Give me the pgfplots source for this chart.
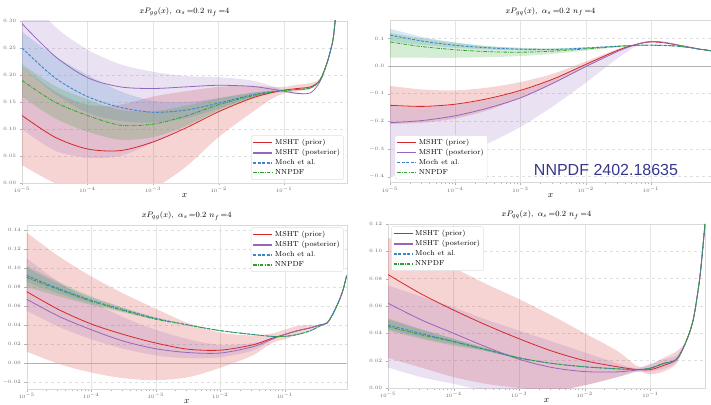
\documentclass[border=0pt]{standalone}
\usepackage{pgfplots}
\pgfplotsset{compat=1.18}
\usepackage{pgfplotstable}
\usepgfplotslibrary{fillbetween}
\usepackage{fontspec}
\newfontfamily\annfont{Liberation Sans}

\definecolor{cprior}{HTML}{D62728}
\definecolor{cpost}{HTML}{9467BD}
\definecolor{cmoch}{HTML}{3A86C8}
\definecolor{cnn}{HTML}{2CA02C}
\definecolor{cann}{RGB}{55,55,140}

% columns: x, prior (central, lo, hi), posterior, Moch et al., NNPDF
\pgfplotstableread{
x pr prlo prhi po polo pohi mo molo mohi nn nnlo nnhi
1e-5 0.125 0.033 0.215 0.295 0.100 0.360 0.250 0.215 0.280 0.190 0.160 0.220
3.162e-5 0.085 0.000 0.170 0.235 0.060 0.290 0.195 0.165 0.235 0.150 0.120 0.180
1e-4 0.063 -0.020 0.145 0.195 0.047 0.247 0.160 0.130 0.200 0.125 0.095 0.155
3.162e-4 0.060 -0.025 0.145 0.178 0.050 0.220 0.140 0.115 0.170 0.107 0.080 0.135
1e-3 0.076 -0.010 0.160 0.175 0.075 0.206 0.131 0.112 0.152 0.109 0.085 0.133
3.162e-3 0.102 0.030 0.170 0.178 0.105 0.198 0.135 0.120 0.150 0.124 0.105 0.143
1e-2 0.132 0.085 0.178 0.181 0.135 0.196 0.148 0.138 0.157 0.145 0.133 0.157
3.162e-2 0.157 0.130 0.180 0.179 0.158 0.190 0.163 0.158 0.167 0.161 0.155 0.167
0.0631 0.167 0.155 0.178 0.174 0.166 0.180 0.169 0.167 0.171 0.168 0.166 0.170
0.1 0.172 0.166 0.178 0.170 0.168 0.172 0.172 0.172 0.172 0.171 0.171 0.171
0.1585 0.175 0.170 0.182 0.166 0.164 0.168 0.173 0.173 0.173 0.173 0.173 0.173
0.2512 0.178 0.174 0.185 0.167 0.167 0.167 0.176 0.176 0.176 0.176 0.176 0.176
0.35 0.190 0.187 0.193 0.187 0.187 0.187 0.190 0.190 0.190 0.190 0.190 0.190
0.45 0.222 0.222 0.222 0.222 0.222 0.222 0.222 0.222 0.222 0.222 0.222 0.222
0.55 0.262 0.262 0.262 0.262 0.262 0.262 0.262 0.262 0.262 0.262 0.262 0.262
0.6 0.300 0.300 0.300 0.300 0.300 0.300 0.300 0.300 0.300 0.300 0.300 0.300
0.7 0.380 0.380 0.380 0.380 0.380 0.380 0.380 0.380 0.380 0.380 0.380 0.380
}\tA

\pgfplotstableread{
x pr prlo prhi po polo pohi mo molo mohi nn nnlo nnhi
1e-5 -0.142 -0.210 -0.072 -0.205 -0.400 -0.145 0.112 0.090 0.135 0.087 0.030 0.120
3.162e-5 -0.146 -0.205 -0.085 -0.197 -0.370 -0.148 0.090 0.076 0.105 0.070 0.030 0.100
1e-4 -0.138 -0.190 -0.088 -0.180 -0.330 -0.140 0.075 0.066 0.085 0.059 0.030 0.085
3.162e-4 -0.118 -0.160 -0.078 -0.152 -0.280 -0.120 0.066 0.060 0.072 0.052 0.032 0.072
1e-3 -0.088 -0.115 -0.058 -0.115 -0.220 -0.090 0.061 0.057 0.065 0.050 0.036 0.066
3.162e-3 -0.047 -0.063 -0.028 -0.062 -0.145 -0.048 0.060 0.057 0.063 0.054 0.044 0.064
1e-2 0.006 -0.002 0.017 -0.002 -0.060 0.005 0.065 0.063 0.067 0.062 0.056 0.068
3.162e-2 0.058 0.055 0.062 0.054 0.030 0.058 0.072 0.072 0.072 0.071 0.068 0.074
0.0631 0.080 0.079 0.081 0.080 0.075 0.082 0.075 0.075 0.075 0.075 0.075 0.075
0.1 0.087 0.087 0.087 0.089 0.087 0.091 0.076 0.076 0.076 0.075 0.075 0.075
0.1585 0.084 0.084 0.084 0.086 0.086 0.086 0.075 0.075 0.075 0.074 0.074 0.074
0.2512 0.076 0.076 0.076 0.077 0.077 0.077 0.072 0.072 0.072 0.072 0.072 0.072
0.35 0.070 0.070 0.070 0.070 0.070 0.070 0.068 0.068 0.068 0.068 0.068 0.068
0.45 0.065 0.065 0.065 0.065 0.065 0.065 0.065 0.065 0.065 0.065 0.065 0.065
0.55 0.061 0.061 0.061 0.061 0.061 0.061 0.061 0.061 0.061 0.061 0.061 0.061
0.7 0.058 0.058 0.058 0.058 0.058 0.058 0.058 0.058 0.058 0.058 0.058 0.058
0.83 0.055 0.055 0.055 0.055 0.055 0.055 0.055 0.055 0.055 0.055 0.055 0.055
}\tB

\pgfplotstableread{
x pr prlo prhi po polo pohi mo molo mohi nn nnlo nnhi
1e-5 0.075 0.012 0.137 0.067 0.055 0.110 0.092 0.085 0.100 0.090 0.080 0.102
3.162e-5 0.056 -0.001 0.112 0.049 0.038 0.085 0.078 0.073 0.083 0.077 0.070 0.085
1e-4 0.041 -0.010 0.091 0.035 0.025 0.065 0.066 0.063 0.069 0.065 0.061 0.070
3.162e-4 0.030 -0.016 0.073 0.023 0.015 0.048 0.056 0.054 0.058 0.055 0.053 0.058
1e-3 0.021 -0.018 0.057 0.015 0.008 0.035 0.047 0.046 0.048 0.046 0.0455 0.047
3.162e-3 0.0145 -0.015 0.042 0.011 0.005 0.025 0.040 0.040 0.040 0.040 0.040 0.040
1e-2 0.0135 -0.005 0.032 0.0105 0.006 0.019 0.034 0.034 0.034 0.034 0.034 0.034
3.162e-2 0.019 0.008 0.029 0.017 0.013 0.021 0.030 0.030 0.030 0.030 0.030 0.030
0.0631 0.026 0.021 0.031 0.025 0.024 0.026 0.028 0.028 0.028 0.028 0.028 0.028
0.1 0.030 0.025 0.035 0.030 0.030 0.030 0.028 0.028 0.028 0.028 0.028 0.028
0.1585 0.034 0.030 0.039 0.034 0.034 0.034 0.030 0.030 0.030 0.030 0.030 0.030
0.2512 0.037 0.035 0.040 0.037 0.037 0.037 0.034 0.034 0.034 0.034 0.034 0.034
0.35 0.040 0.040 0.040 0.040 0.040 0.040 0.039 0.039 0.039 0.039 0.039 0.039
0.45 0.042 0.042 0.042 0.042 0.042 0.042 0.042 0.042 0.042 0.042 0.042 0.042
0.55 0.051 0.051 0.051 0.051 0.051 0.051 0.051 0.051 0.051 0.051 0.051 0.051
0.7 0.066 0.066 0.066 0.066 0.066 0.066 0.066 0.066 0.066 0.066 0.066 0.066
0.8 0.077 0.077 0.077 0.077 0.077 0.077 0.077 0.077 0.077 0.077 0.077 0.077
0.91 0.092 0.092 0.092 0.092 0.092 0.092 0.092 0.092 0.092 0.092 0.092 0.092
}\tC

\pgfplotstableread{
x pr prlo prhi po polo pohi mo molo mohi nn nnlo nnhi
1e-5 0.083 0.022 0.110 0.062 0.015 0.075 0.046 0.043 0.050 0.045 0.042 0.051
3.162e-5 0.069 0.015 0.099 0.050 0.008 0.067 0.040 0.037 0.043 0.039 0.036 0.043
1e-4 0.057 0.008 0.088 0.040 0.003 0.059 0.034 0.032 0.036 0.034 0.031 0.036
3.162e-4 0.046 0.003 0.076 0.030 -0.002 0.050 0.028 0.027 0.029 0.028 0.027 0.029
1e-3 0.036 0.000 0.065 0.021 -0.004 0.042 0.022 0.0215 0.0225 0.022 0.0215 0.0225
3.162e-3 0.027 -0.002 0.053 0.015 -0.003 0.034 0.018 0.018 0.018 0.018 0.018 0.018
1e-2 0.020 0.002 0.040 0.012 0.002 0.026 0.0155 0.0155 0.0155 0.0155 0.0155 0.0155
3.162e-2 0.0155 0.008 0.027 0.0118 0.008 0.018 0.014 0.014 0.014 0.014 0.014 0.014
0.0631 0.0135 0.012 0.016 0.0132 0.012 0.0145 0.0135 0.0135 0.0135 0.0135 0.0135 0.0135
0.1 0.0135 0.010 0.017 0.0145 0.012 0.018 0.0145 0.0145 0.0145 0.0145 0.0145 0.0145
0.1585 0.0165 0.012 0.022 0.018 0.014 0.021 0.018 0.018 0.018 0.018 0.018 0.018
0.2512 0.021 0.018 0.027 0.021 0.019 0.024 0.021 0.021 0.021 0.021 0.021 0.021
0.35 0.034 0.034 0.034 0.034 0.034 0.034 0.034 0.034 0.034 0.034 0.034 0.034
0.45 0.050 0.050 0.050 0.050 0.050 0.050 0.050 0.050 0.050 0.050 0.050 0.050
0.55 0.076 0.076 0.076 0.076 0.076 0.076 0.076 0.076 0.076 0.076 0.076 0.076
0.6 0.092 0.092 0.092 0.092 0.092 0.092 0.092 0.092 0.092 0.092 0.092 0.092
0.68 0.120 0.120 0.120 0.120 0.120 0.120 0.120 0.120 0.120 0.120 0.120 0.120
}\tD

% one shaded band: table, lo column, hi column, colour, unique id
\newcommand{\bandfill}[5]{%
  \addplot[draw=none, smooth, name path=L#5, forget plot] table[x=x,y=#2]{#1};
  \addplot[draw=none, smooth, name path=H#5, forget plot] table[x=x,y=#3]{#1};
  \addplot[fill=#4, fill opacity=0.2, draw=none, forget plot] fill between[of=L#5 and H#5];
}
% legend, then all four bands and lines of one panel
\newcommand{\drawset}[2]{%
  \addplot[draw=none, forget plot] coordinates {(1e-5,0) (1e-4,0)};
  \addlegendimage{draw=cprior, line width=1.3pt}\addlegendentry{MSHT (prior)}
  \addlegendimage{draw=cpost, line width=1.3pt}\addlegendentry{MSHT (posterior)}
  \addlegendimage{draw=cmoch, line width=1.3pt, dash pattern=on 3pt off 1.5pt}\addlegendentry{Moch et al.}
  \addlegendimage{draw=cnn, line width=1.3pt, dash pattern=on 3.5pt off 1.2pt on 0.8pt off 1.2pt}\addlegendentry{NNPDF}
  \bandfill{#1}{prlo}{prhi}{cprior}{a#2}
  \bandfill{#1}{polo}{pohi}{cpost}{b#2}
  \bandfill{#1}{molo}{mohi}{cmoch}{c#2}
  \bandfill{#1}{nnlo}{nnhi}{cnn}{d#2}
  \addplot[cprior, smooth, forget plot] table[x=x,y=pr]{#1};
  \addplot[cpost, smooth, forget plot] table[x=x,y=po]{#1};
  \addplot[cmoch, smooth, forget plot, line width=0.9pt, dash pattern=on 3pt off 1.5pt] table[x=x,y=mo]{#1};
  \addplot[cnn, smooth, forget plot, dash pattern=on 3.5pt off 1.2pt on 0.8pt off 1.2pt] table[x=x,y=nn]{#1};
}

\pgfplotsset{
  every axis/.append style={
    scale only axis,
    xtick={1e-5,1e-4,1e-3,1e-2,1e-1},
    axis line style={gray!30},
    grid=major,
    x grid style={gray!20},
    y grid style={gray!25, dashed},
    tick align=outside, tick pos=left,
    major tick length=2.5pt, minor tick length=1.5pt,
    tick style={gray!60},
    tick label style={font=\fontsize{5}{6}\selectfont, text=gray!80!black},
    xticklabel style={yshift=1.5pt},
    yticklabel style={/pgf/number format/fixed, /pgf/number format/fixed zerofill, /pgf/number format/precision=2},
    title style={font=\fontsize{8.5}{10}\selectfont, yshift=-5pt},
    xlabel={$x$},
    xlabel style={font=\fontsize{9}{10}\selectfont, yshift=6pt},
    legend cell align=left,
    legend style={font=\fontsize{7.2}{8.2}\selectfont, draw=gray!25,
      rounded corners=1.5pt, fill=white,
      inner sep=1.5pt, row sep=-0.6pt},
  },
  every axis plot/.append style={line width=0.8pt},
  legend image code/.code={\draw[#1] (0pt,0pt) -- (19pt,0pt);},
}

\begin{document}
\begin{tikzpicture}

\begin{axis}[xmode=log, anchor=south west, at={(22pt,221pt)}, width=325pt, height=162pt,
  xmin=1e-5, xmax=0.91, ymin=0, ymax=0.30,
  ytick={0,0.05,0.10,0.15,0.20,0.25,0.30},
  title={$xP_{gg}(x),\ \alpha_s\,{=}0.2\ n_f\,{=}4$},
  legend style={at={(0.99,0.02)}, anchor=south east}]
  \drawset{\tA}{A}
\end{axis}

\begin{axis}[xmode=log, anchor=south west, at={(390pt,221.3pt)}, width=321pt, height=162pt,
  xmin=1e-5, xmax=0.83, ymin=-0.422, ymax=0.164,
  ytick={-0.4,-0.3,-0.2,-0.1,0,0.1},
  yticklabel style={/pgf/number format/precision=1},
  title={$xP_{gq}(x),\ \alpha_s\,{=}0.2\ n_f\,{=}4$},
  legend style={at={(0.015,0.02)}, anchor=south west}]
  \addplot[gray!60, line width=0.6pt, forget plot] coordinates {(1e-5,0) (1,0)};
  \drawset{\tB}{B}
\end{axis}

\begin{axis}[xmode=log, anchor=south west, at={(26.7pt,15pt)}, width=320pt, height=164pt,
  xmin=1e-5, xmax=0.91, ymin=-0.0273, ymax=0.145,
  ytick={-0.02,0,0.02,0.04,0.06,0.08,0.10,0.12,0.14},
  title={$xP_{qg}(x),\ \alpha_s\,{=}0.2\ n_f\,{=}4$},
  legend style={at={(0.99,0.985)}, anchor=north east}]
  \addplot[gray!60, line width=0.6pt, forget plot] coordinates {(1e-5,0) (1,0)};
  \drawset{\tC}{C}
\end{axis}

\begin{axis}[xmode=log, anchor=south west, at={(388pt,16pt)}, width=317pt, height=164pt,
  xmin=1e-5, xmax=0.68, ymin=0, ymax=0.12,
  ytick={0,0.02,0.04,0.06,0.08,0.10,0.12},
  title={$xP_{qq}(x),\ \alpha_s\,{=}0.2\ n_f\,{=}4$},
  legend style={at={(0.01,0.985)}, anchor=north west}]
  \drawset{\tD}{D}
\end{axis}

\node[font=\annfont\fontsize{16}{18}\selectfont, text=cann] at (606pt,234pt) {NNPDF 2402.18635};
\pgfresetboundingbox
\path[use as bounding box] (0pt,0pt) rectangle (711pt,404pt);
\end{tikzpicture}
\end{document}
